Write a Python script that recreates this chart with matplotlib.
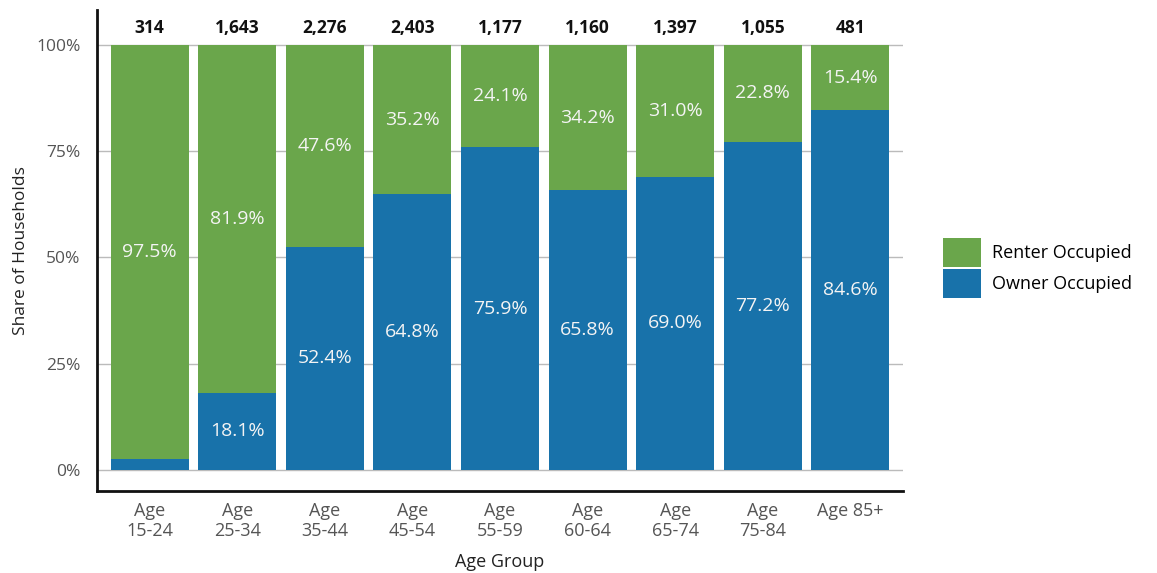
import matplotlib.pyplot as plt
import numpy as np

age_groups = ["Age\n15-24", "Age\n25-34", "Age\n35-44", "Age\n45-54", "Age\n55-59",
              "Age\n60-64", "Age\n65-74", "Age\n75-84", "Age 85+"]
owner_pct = [2.5, 18.1, 52.4, 64.8, 75.9, 65.8, 69.0, 77.2, 84.6]
renter_pct = [97.5, 81.9, 47.6, 35.2, 24.1, 34.2, 31.0, 22.8, 15.4]
totals = [314, 1643, 2276, 2403, 1177, 1160, 1397, 1055, 481]

GREEN = "#6aa64b"
BLUE = "#1872aa"

plt.rcParams["font.family"] = ["Open Sans", "DejaVu Sans"]

fig = plt.figure(figsize=(11.57, 5.73), dpi=100)
ax = fig.add_axes([97 / 1157, 1 - 491 / 573, (903 - 97) / 1157, (491 - 10) / 573])

x = np.arange(len(age_groups))
ax.bar(x, owner_pct, width=0.89, color=BLUE, label="Owner Occupied", zorder=2)
ax.bar(x, renter_pct, width=0.89, bottom=owner_pct, color=GREEN,
       label="Renter Occupied", zorder=2)

# segment labels
for i in range(len(x)):
    if owner_pct[i] >= 5:
        ax.text(x[i], owner_pct[i] / 2, f"{owner_pct[i]:.1f}%", ha="center",
                va="center", color="#f4f4f4", fontsize=14, zorder=3)
    ax.text(x[i], owner_pct[i] + renter_pct[i] / 2, f"{renter_pct[i]:.1f}%",
            ha="center", va="center", color="#f4f4f4", fontsize=14, zorder=3)
    ax.text(x[i], 104, f"{totals[i]:,}", ha="center", va="center",
            fontsize=12.5, fontweight="bold", color="#111111")

ax.set_xlim(-0.6, 8.6)
ax.set_ylim(-5, 108.2)
ax.set_yticks([0, 25, 50, 75, 100])
ax.set_yticklabels(["0%", "25%", "50%", "75%", "100%"])
ax.set_xticks(x)
ax.set_xticklabels(age_groups, linespacing=1.1)
ax.tick_params(axis="x", length=0, pad=8, labelsize=13, labelcolor="#555555")
ax.tick_params(axis="y", length=0, pad=12, labelsize=12.5, labelcolor="#555555")
ax.grid(axis="y", color="#bbbbbb", linewidth=1, zorder=1)

for s in ["top", "right"]:
    ax.spines[s].set_visible(False)
for s in ["left", "bottom"]:
    ax.spines[s].set_linewidth(2)
    ax.spines[s].set_color("#111111")

ax.set_xlabel("Age Group", fontsize=13, labelpad=10, color="#222222")
ax.set_ylabel("Share of Households", fontsize=12.5, labelpad=5, color="#222222")

handles, labels = ax.get_legend_handles_labels()
fig.legend(handles[::-1], labels[::-1], loc="center left",
           bbox_to_anchor=(943 / 1157, 1 - 268 / 573), frameon=False,
           fontsize=13, handlelength=2.1, handleheight=2.1, labelspacing=0.12,
           handletextpad=0.6, borderpad=0, borderaxespad=0)

fig.savefig("out.png", dpi=100)
